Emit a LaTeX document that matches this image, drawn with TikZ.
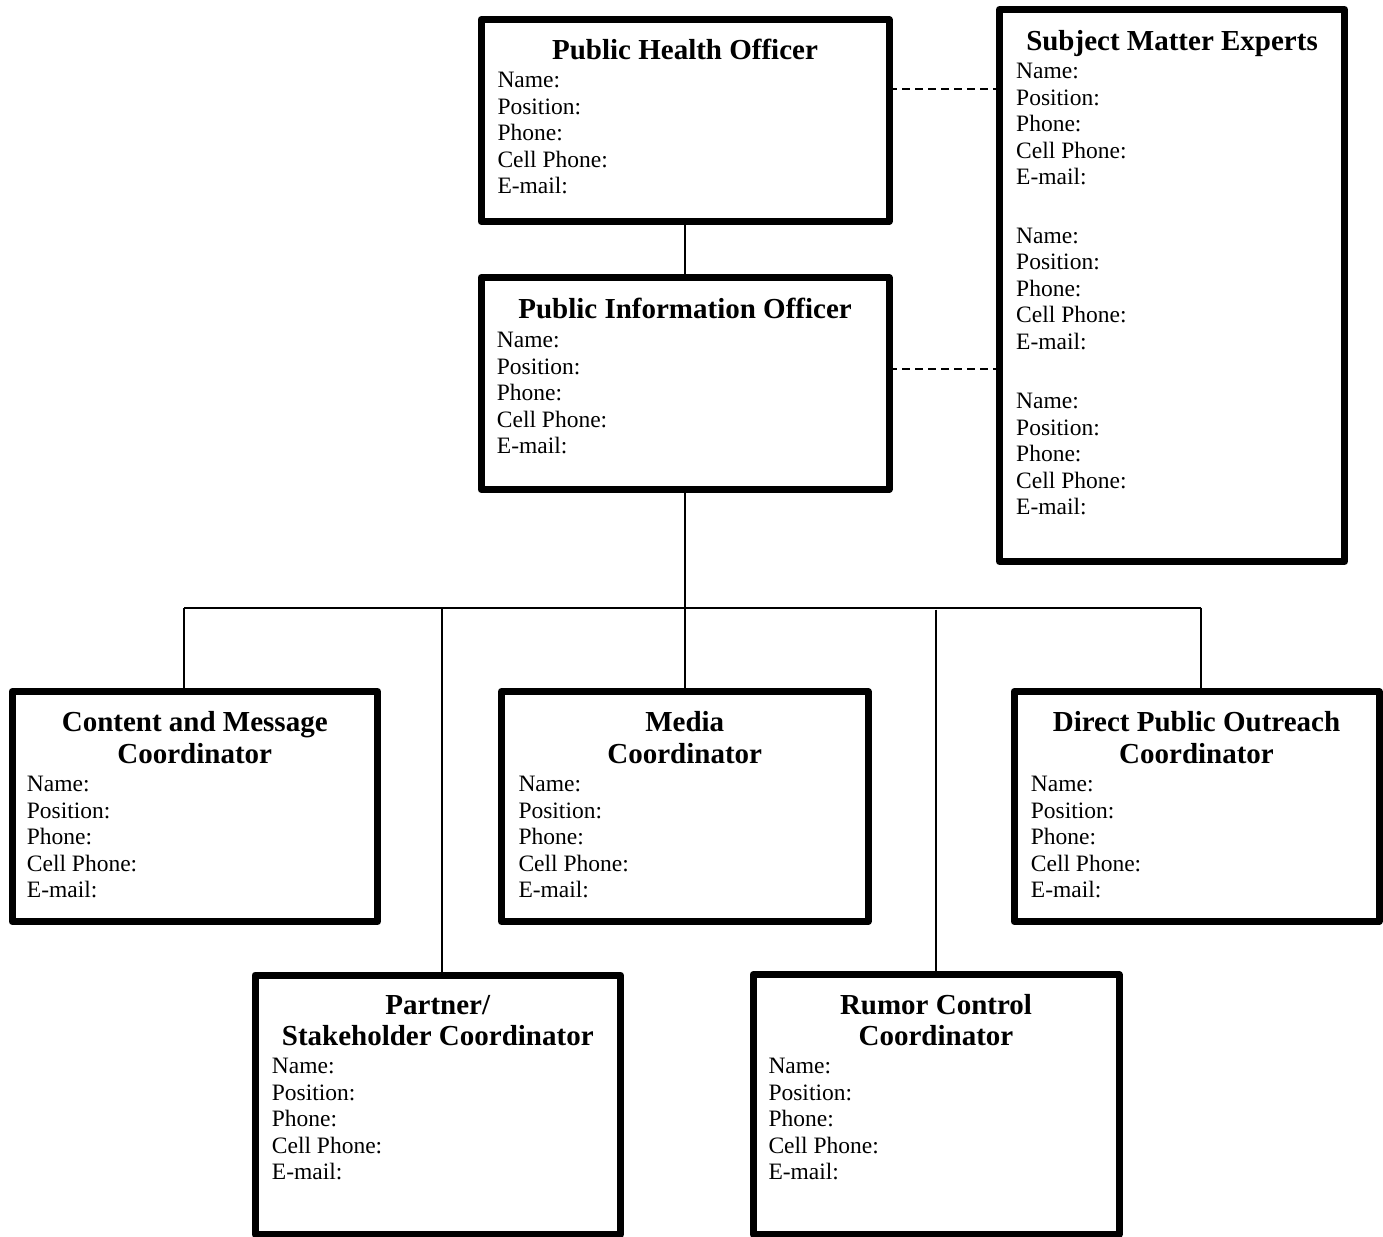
\documentclass[tikz,border=0pt]{standalone}
\usepackage{fontspec}
\setmainfont{Liberation Serif}
\usetikzlibrary{calc}

% 1 unit = 1pt, y grows downwards
\tikzset{
  x=1pt, y=-1pt,
  card/.style={draw=black, fill=white, line width=7pt, line join=round,
               rectangle, inner sep=0pt, outer sep=0pt},
  cardtitle/.style={inner sep=0pt, anchor=north, align=center,
               font=\fontsize{29}{31.6}\selectfont\bfseries},
  cardbody/.style={inner sep=0pt, anchor=north west, align=left,
               font=\fontsize{23.5}{26.5}\selectfont},
  link/.style={draw=black, line width=2pt},
  dashlink/.style={draw=black, line width=2pt, dash pattern=on 8pt off 5pt},
}
\newcommand\contactlines{\strut Name:\\Position:\\Phone:\\Cell Phone:\\E-mail:}

\begin{document}
\begin{tikzpicture}
\useasboundingbox (0,0) rectangle (1383,1236);

% ---- boxes ----
\node[card, minimum width=408pt, minimum height=202pt] (pho) at (685,120.5) {};
\node[card, minimum width=408pt, minimum height=212pt] (pio) at (685,383.5) {};
\node[card, minimum width=345pt, minimum height=552pt] (sme) at (1172,285.5) {};
\node[card, minimum width=365.5pt, minimum height=230pt] (cmc) at (194.75,806.5) {};
\node[card, minimum width=366.5pt, minimum height=230pt] (med) at (684.75,806.5) {};
\node[card, minimum width=365pt, minimum height=230pt] (dpo) at (1196.5,806.5) {};
\node[card, minimum width=365.5pt, minimum height=259.5pt] (psc) at (437.75,1104.75) {};
\node[card, minimum width=366pt, minimum height=260pt] (rcc) at (936,1104.5) {};

% ---- titles ----
\node[cardtitle] (phoT) at (685,37.2) {\strut Public Health Officer};
\node[cardtitle] (pioT) at (685,296.2) {\strut Public Information Officer};
\node[cardtitle] (smeT) at (1172,27.9) {\strut Subject Matter Experts};
\node[cardtitle] (cmcT) at (194.75,709.6) {\strut Content and Message\\Coordinator};
\node[cardtitle] (medT) at (684.75,709.6) {\strut Media\\Coordinator};
\node[cardtitle] (dpoT) at (1196.5,709.6) {\strut Direct Public Outreach\\Coordinator};
\node[cardtitle] (pscT) at (437.75,991.9) {\strut Partner/\\Stakeholder Coordinator};
\node[cardtitle] (rccT) at (936,991.9) {\strut Rumor Control\\Coordinator};

% ---- contact fields ----
\node[cardbody] (phoB) at (497.3,68.75) {\contactlines};
\node[cardbody] (pioB) at (496.7,328.75) {\contactlines};
\node[cardbody] (smeB1) at (1016,59.75) {\contactlines};
\node[cardbody] (smeB2) at (1016,224.45) {\contactlines};
\node[cardbody] (smeB3) at (1016,389.75) {\contactlines};
\node[cardbody] (cmcB) at (26.7,773.15) {\contactlines};
\node[cardbody] (medB) at (518.3,773.15) {\contactlines};
\node[cardbody] (dpoB) at (1030.7,773.15) {\contactlines};
\node[cardbody] (pscB) at (271.7,1054.95) {\contactlines};
\node[cardbody] (rccB) at (768.3,1054.95) {\contactlines};

% ---- reporting lines ----
\draw[link] (pho.south) -- (pio.south |- pio.north);

\coordinate (busL) at (184.3,607.5);
\coordinate (busR) at (1200.7,607.5);
\coordinate (busP) at (441.7,607.5);
\coordinate (busQ) at (935.7,609.5);
\draw[link] (busL) -- (busR);
\draw[link] (pio.south) -- (pio.south |- busL);
\draw[link] (busL) -- (busL |- cmc.north);
\draw[link] (busP) -- (busP |- psc.north);
\draw[link] (med.north |- busL) -- (med.north);
\draw[link] (busQ) -- (busQ |- rcc.north);
\draw[link] (busR) -- (busR |- dpo.north);

% ---- advisory links to the experts ----
\coordinate (phoD) at ([yshift=31pt]pho.east);
\coordinate (pioD) at ([yshift=15pt]pio.east);
\draw[dashlink] (phoD) -- (phoD -| sme.west);
\draw[dashlink] (pioD) -- (pioD -| sme.west);
\end{tikzpicture}
\end{document}
